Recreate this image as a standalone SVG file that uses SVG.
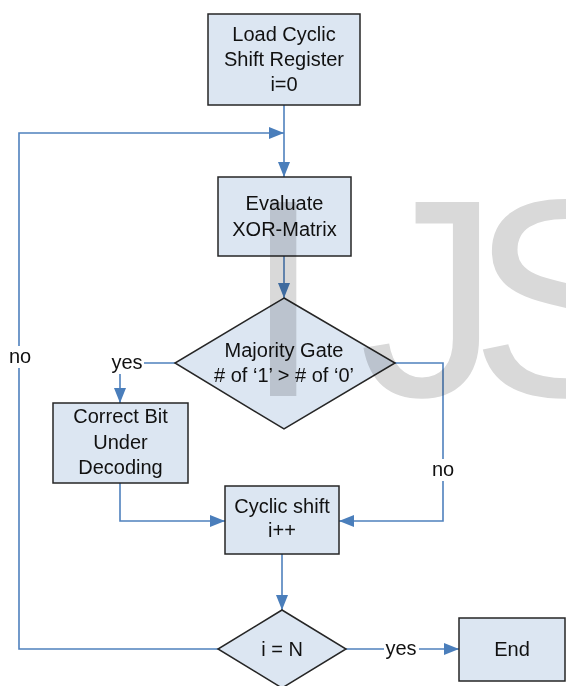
<svg xmlns="http://www.w3.org/2000/svg" width="566" height="686" viewBox="0 0 566 686">
  <defs>
    <style>
      .node { fill: #dce6f2; stroke: #262626; stroke-width: 1.5; }
      .conn { fill: none; stroke: #4f81bd; stroke-width: 1.6; }
      text { font-family: "Liberation Sans", Arial, sans-serif; font-size: 20px; fill: #111; text-anchor: middle; }
      .lblbg { fill: #ffffff; }
      .wm { font-size: 282px; fill: #d9d9d9; text-anchor: start; mix-blend-mode: multiply; }
    </style>
    <marker id="arr" viewBox="0 0 15 12" refX="15" refY="6" markerWidth="15" markerHeight="12" markerUnits="userSpaceOnUse" orient="auto">
      <path d="M0,0 L15,6 L0,12 Z" fill="#4a7ebb"/>
    </marker>
  </defs>
  <rect width="566" height="686" fill="#ffffff"/>

  <g id="connectors">
    <path class="conn" d="M284,105 V177" marker-end="url(#arr)"/>
    <path class="conn" d="M218,649 H19 V133 H284" marker-end="url(#arr)"/>
    <path class="conn" d="M284,256 V298" marker-end="url(#arr)"/>
    <path class="conn" d="M175,363 H120 V403" marker-end="url(#arr)"/>
    <path class="conn" d="M120,483 V521 H225" marker-end="url(#arr)"/>
    <path class="conn" d="M395,363 H443 V521 H339" marker-end="url(#arr)"/>
    <path class="conn" d="M282,554 V610" marker-end="url(#arr)"/>
    <path class="conn" d="M346,649 H459" marker-end="url(#arr)"/>
    <g id="labels">
      <rect class="lblbg" x="109" y="350" width="35" height="24"/>
      <text x="127" y="369">yes</text>
      <rect class="lblbg" x="8" y="346" width="24" height="22"/>
      <text x="20" y="363">no</text>
      <rect class="lblbg" x="431" y="459" width="25" height="22"/>
      <text x="443" y="476">no</text>
      <rect class="lblbg" x="384" y="637" width="35" height="24"/>
      <text x="401" y="655">yes</text>
    </g>
  </g>

  <g id="load">
    <rect class="node" x="208" y="14" width="152" height="91"/>
    <text x="284" y="41">Load Cyclic</text>
    <text x="284" y="66">Shift Register</text>
    <text x="284" y="91">i=0</text>
  </g>

  <g id="evaluate">
    <rect class="node" x="218" y="177" width="133" height="79"/>
    <text x="284.5" y="210">Evaluate</text>
    <text x="284.5" y="236">XOR-Matrix</text>
  </g>

  <g id="majority">
    <polygon class="node" points="284,298 395,363 284,429 175,363"/>
    <text x="284" y="357">Majority Gate</text>
    <text x="284" y="382"># of ‘1’ &gt; # of ‘0’</text>
  </g>

  <g id="correct">
    <rect class="node" x="53" y="403" width="135" height="80"/>
    <text x="120.5" y="423">Correct Bit</text>
    <text x="120.5" y="449">Under</text>
    <text x="120.5" y="474">Decoding</text>
  </g>

  <g id="shift">
    <rect class="node" x="225" y="486" width="114" height="68"/>
    <text x="282" y="513">Cyclic shift</text>
    <text x="282" y="537">i++</text>
  </g>

  <g id="check">
    <polygon class="node" points="282,610 346,649 282,688 218,649"/>
    <text x="282" y="656">i = N</text>
  </g>

  <g id="end">
    <rect class="node" x="459" y="618" width="106" height="63"/>
    <text x="512" y="656">End</text>
  </g>

  <text class="wm" x="244 359 470" y="396">IJS</text>
</svg>
